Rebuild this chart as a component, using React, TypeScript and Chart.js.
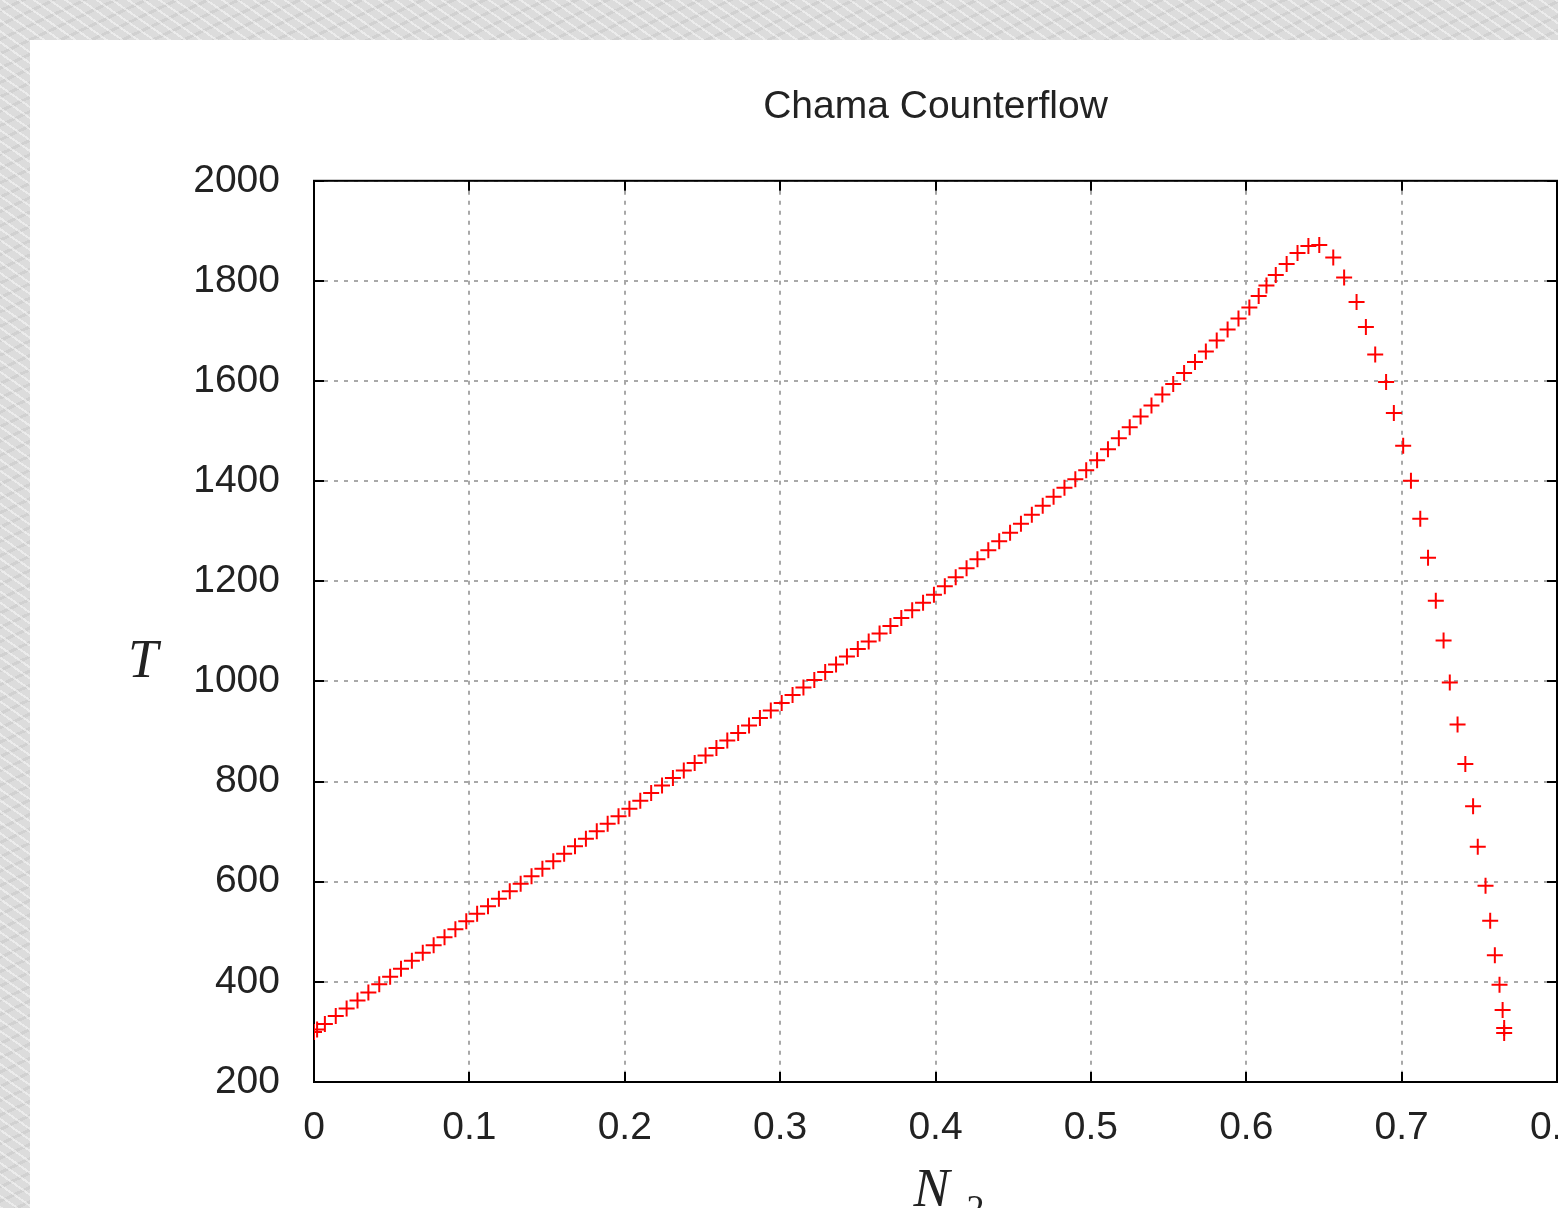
import React, { useEffect, useRef } from "react";
import { Chart, registerables } from "chart.js";

Chart.register(...registerables);

const TITLE = "Chama Counterflow";
const Y_TITLE = "T";
const X_TITLE_MAIN = "N";
const X_TITLE_SUB = "2";

const X_TICK_VALUES = [0, 0.1, 0.2, 0.3, 0.4, 0.5, 0.6, 0.7, 0.8];
const X_TICK_LABELS = ["0", "0.1", "0.2", "0.3", "0.4", "0.5", "0.6", "0.7", "0.8"];
const Y_TICK_VALUES = [200, 400, 600, 800, 1000, 1200, 1400, 1600, 1800, 2000];
const Y_TICK_LABELS = ["200", "400", "600", "800", "1000", "1200", "1400", "1600", "1800", "2000"];

const N2_VALUES = [
  0.000, 0.002, 0.007, 0.014, 0.021, 0.028, 0.035, 0.042, 0.049, 0.056, 0.063, 0.070, 0.077, 0.084, 0.091, 0.098,
  0.105, 0.112, 0.119, 0.126, 0.133, 0.140, 0.147, 0.154, 0.161, 0.168, 0.175, 0.182, 0.189, 0.196,
  0.203, 0.210, 0.217, 0.224, 0.231, 0.238, 0.245, 0.252, 0.259, 0.266, 0.273, 0.280, 0.287, 0.294,
  0.301, 0.308, 0.315, 0.322, 0.329, 0.336, 0.343, 0.350, 0.357, 0.364, 0.371, 0.378, 0.385, 0.392, 0.399,
  0.406, 0.413, 0.420, 0.427, 0.434, 0.441, 0.448, 0.455, 0.462, 0.469, 0.476, 0.483, 0.490, 0.497,
  0.504, 0.511, 0.518, 0.525, 0.532, 0.539, 0.546, 0.553, 0.560, 0.567, 0.574, 0.581, 0.588, 0.595,
  0.602, 0.608, 0.613, 0.619, 0.626, 0.633, 0.640, 0.647,
  0.656, 0.663, 0.671, 0.677, 0.683, 0.690, 0.695, 0.701, 0.706, 0.712, 0.717, 0.722, 0.727, 0.731, 0.736,
  0.741, 0.746, 0.749, 0.754, 0.757, 0.760, 0.763, 0.765, 0.766, 0.766,
];

const T_VALUES = [
  300, 305, 316, 332, 347, 363, 379, 395, 410, 426, 442, 458, 473, 489, 505, 521,
  536, 551, 566, 581, 596, 611, 626, 641, 656, 671, 686, 701, 716, 731,
  746, 762, 777, 792, 807, 822, 837, 852, 867, 882, 897, 912, 927, 942,
  957, 973, 988, 1003, 1019, 1034, 1050, 1065, 1080, 1096, 1111, 1127, 1142, 1157, 1173,
  1190, 1208, 1226, 1244, 1262, 1280, 1297, 1315, 1333, 1351, 1369, 1387, 1404, 1422,
  1442, 1464, 1486, 1508, 1529, 1551, 1573, 1594, 1616, 1638, 1659, 1681, 1703, 1725,
  1747, 1770, 1791, 1812, 1834, 1856, 1870, 1872,
  1847, 1807, 1758, 1708, 1653, 1598, 1536, 1471, 1401, 1325, 1247, 1161, 1082, 998, 914,
  835, 751, 670, 592, 522, 453, 394, 344, 308, 298,
];

const CANVAS_W = 1600;
const CANVAS_H = 1260;

const framePlugin = {
  id: "gnuFrame",
  beforeDatasetsDraw(chart: any) {
    const { ctx, chartArea: a, scales } = chart;
    ctx.save();
    ctx.strokeStyle = "#000";
    ctx.lineWidth = 2;
    ctx.setLineDash([]);
    ctx.strokeRect(a.left, a.top, a.right - a.left, a.bottom - a.top);
    ctx.beginPath();
    const tl = 10;
    for (const v of X_TICK_VALUES) {
      const px = Math.round(scales.x.getPixelForValue(v));
      ctx.moveTo(px, a.bottom);
      ctx.lineTo(px, a.bottom - tl);
      ctx.moveTo(px, a.top);
      ctx.lineTo(px, a.top + tl);
    }
    for (const v of Y_TICK_VALUES) {
      const py = Math.round(scales.y.getPixelForValue(v));
      ctx.moveTo(a.left, py);
      ctx.lineTo(a.left + tl, py);
      ctx.moveTo(a.right, py);
      ctx.lineTo(a.right - tl, py);
    }
    ctx.stroke();
    ctx.restore();
  },
  afterDraw(chart: any) {
    const { ctx, chartArea: a } = chart;
    const cx = (a.left + a.right) / 2;
    const cy = (a.top + a.bottom) / 2;
    ctx.save();
    ctx.fillStyle = "#222";
    ctx.textBaseline = "alphabetic";
    ctx.font = 'italic 54px "Liberation Serif", "DejaVu Serif", serif';
    ctx.textAlign = "center";
    ctx.fillText(Y_TITLE, a.left - 171, cy + 46);
    ctx.textAlign = "left";
    ctx.fillText(X_TITLE_MAIN, cx - 22, a.bottom + 124);
    ctx.font = '36px "Liberation Serif", "DejaVu Serif", serif';
    ctx.fillText(X_TITLE_SUB, cx + 31, a.bottom + 138);
    ctx.restore();
  },
};

export default function App() {
  const canvasRef = useRef<HTMLCanvasElement | null>(null);

  useEffect(() => {
    const canvas = canvasRef.current;
    if (!canvas) return;
    const tickFont = { family: '"Liberation Sans", Arial, sans-serif', size: 39 };
    const points = N2_VALUES.map((x, i) => ({ x, y: T_VALUES[i] }));
    const chart = new Chart(canvas, {
      type: "scatter",
      data: {
        datasets: [
          {
            data: points,
            pointStyle: "cross",
            pointRadius: 8,
            pointHoverRadius: 8,
            borderColor: "#ff0000",
            backgroundColor: "#ff0000",
            pointBorderWidth: 2,
            borderWidth: 2,
            showLine: false,
          },
        ],
      },
      options: {
        responsive: false,
        animation: false,
        devicePixelRatio: 1,
        events: [],
        layout: { padding: { left: 0, right: 73, top: 0, bottom: 118 } },
        plugins: {
          legend: { display: false },
          tooltip: { enabled: false },
          title: {
            display: true,
            text: TITLE,
            fullSize: false,
            color: "#222",
            font: { family: '"Liberation Sans", Arial, sans-serif', size: 39, weight: "normal" },
            padding: { top: 44, bottom: 50 },
          },
        },
        scales: {
          x: {
            type: "linear",
            min: 0,
            max: 0.8,
            afterBuildTicks: (s: any) => {
              s.ticks = X_TICK_VALUES.map((v) => ({ value: v }));
            },
            afterFit: (s: any) => {
              s.height = 100;
            },
            ticks: {
              color: "#222",
              font: tickFont,
              padding: 23,
              maxRotation: 0,
              autoSkip: false,
              callback: (v: any) => {
                const i = X_TICK_VALUES.findIndex((t) => Math.abs(t - Number(v)) < 1e-9);
                return i >= 0 ? X_TICK_LABELS[i] : "";
              },
            },
            grid: { color: "#a8a8a8", lineWidth: 2, drawTicks: false },
            border: { display: false, dash: [4, 6] },
          },
          y: {
            type: "linear",
            min: 200,
            max: 2000,
            afterBuildTicks: (s: any) => {
              s.ticks = Y_TICK_VALUES.map((v) => ({ value: v }));
            },
            afterFit: (s: any) => {
              s.width = 284;
            },
            ticks: {
              color: "#222",
              font: tickFont,
              padding: 34,
              autoSkip: false,
              callback: (v: any) => {
                const i = Y_TICK_VALUES.indexOf(Number(v));
                return i >= 0 ? Y_TICK_LABELS[i] : "";
              },
            },
            grid: { color: "#a8a8a8", lineWidth: 2, drawTicks: false },
            border: { display: false, dash: [4, 6] },
          },
        },
      },
      plugins: [framePlugin],
    } as any);
    return () => chart.destroy();
  }, []);

  return (
    <div
      style={{
        position: "fixed",
        left: 0,
        top: 0,
        width: 1558,
        height: 1208,
        overflow: "hidden",
        backgroundColor: "#dcdcdc",
        backgroundImage:
          "repeating-linear-gradient(35deg, rgba(255,255,255,0.45) 0px, rgba(255,255,255,0.45) 2px, rgba(255,255,255,0) 2px, rgba(255,255,255,0) 9px), repeating-linear-gradient(-25deg, rgba(0,0,0,0.05) 0px, rgba(0,0,0,0.05) 3px, rgba(0,0,0,0) 3px, rgba(0,0,0,0) 13px)",
      }}
    >
      <div
        style={{
          position: "absolute",
          left: 30,
          top: 40,
          width: CANVAS_W,
          height: CANVAS_H,
          background: "#ffffff",
        }}
      >
        <canvas
          ref={canvasRef}
          width={CANVAS_W}
          height={CANVAS_H}
          style={{ display: "block", width: CANVAS_W, height: CANVAS_H }}
        />
      </div>
    </div>
  );
}
